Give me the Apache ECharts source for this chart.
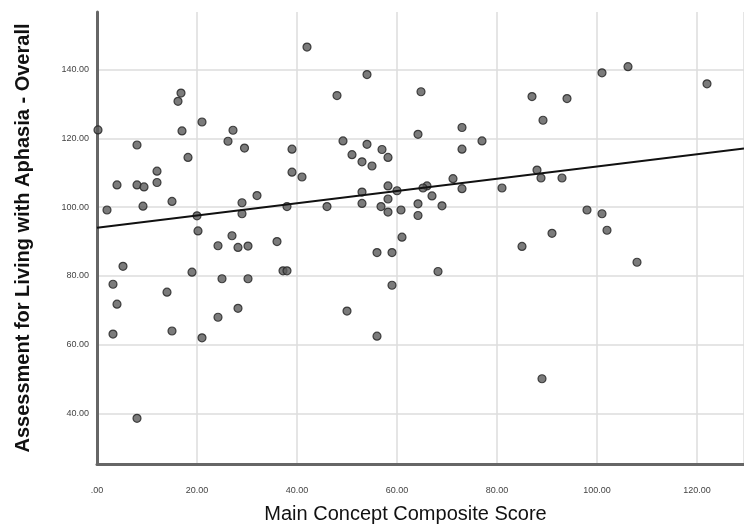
<!DOCTYPE html>
<html>
<head>
<meta charset="utf-8">
<script src="https://cdn.jsdelivr.net/npm/echarts@6/dist/echarts.min.js"></script>
<style>
  html, body { margin: 0; padding: 0; background: #fff; }
  #chart { width: 744px; height: 529px; }
</style>
</head>
<body>
<div id="chart"></div>
<script>
// Main Concept Composite Score (x) vs ALA Overall (y)
const mcScore = [
  0.2, 16.8, 16.2, 17, 21, 27.2, 26.2, 29.5, 8, 18.2,
  12, 12, 4, 8, 9.4, 15, 2, 9.2, 20, 29,
  29, 32, 38, 20.2, 27, 24.2, 28.2, 30.2, 36, 5.2,
  19, 25, 30.2, 37.2, 38, 3.2, 14, 4, 28.2, 24.2,
  15, 3.2, 21, 8,
  42, 54, 48, 64.8, 73, 64.2, 77, 49.2, 54, 73,
  39, 57, 58.2, 51, 53, 55, 39, 41, 71.2, 73,
  66, 67, 65.2, 60, 58.2, 58.2, 53, 53, 46, 56.8,
  58.2, 60.8, 64.2, 64.2, 69, 61, 56, 59, 68.2, 59,
  50, 56,
  101, 106.2, 122, 87, 94, 89.2, 88, 88.8, 93, 81,
  98, 101, 102, 91, 85, 108, 89
]
const alaScore = [
  122.5, 133.2, 130.8, 122.2, 124.8, 122.4, 119.2, 117.2, 118.1, 114.5,
  110.5, 107.2, 106.5, 106.5, 105.9, 101.7, 99.2, 100.3, 97.5, 101.3,
  98.1, 103.4, 100.2, 93.1, 91.7, 88.8, 88.3, 88.7, 90, 82.8,
  81.1, 79.2, 79.2, 81.5, 81.5, 77.6, 75.3, 71.8, 70.6, 68,
  64, 63.1, 62, 38.6,
  146.6, 138.6, 132.5, 133.6, 123.2, 121.2, 119.3, 119.3, 118.3, 116.9,
  116.9, 116.8, 114.5, 115.3, 113.2, 112, 110.2, 108.8, 108.3, 105.4,
  106.2, 103.3, 105.6, 104.8, 106.2, 102.4, 104.4, 101.1, 100.2, 100.2,
  98.6, 99.2, 101, 97.6, 100.4, 91.3, 86.8, 86.8, 81.3, 77.3,
  69.8, 62.5,
  139.1, 140.9, 135.9, 132.2, 131.6, 125.3, 110.8, 108.5, 108.5, 105.6,
  99.2, 98.1, 93.3, 92.4, 88.6, 84, 50.1
]
// fit line end points
const fitX = [0, 129.4]
const fitY = [94, 117.1]
const yTicks = [40, 60, 80, 100, 120, 140]

const chart = echarts.init(document.getElementById('chart'))

chart.setOption({
  animation: false,
  backgroundColor: '#fff',
  grid: {
    left: 97,
    right: 0,
    top: 12,
    bottom: 62
  },
  xAxis: {
    type: 'value',
    min: 0,
    max: 129.4,
    interval: 20,
    name: 'Main Concept Composite Score',
    nameLocation: 'middle',
    nameGap: 40,
    nameTextStyle: {
      fontFamily: 'Liberation Sans',
      fontSize: 20,
      color: '#111',
      padding: [0, 30, 0, 0]
    },
    axisLine: { lineStyle: { color: '#666', width: 3 } },
    axisTick: { show: false },
    axisLabel: {
      color: '#444',
      fontSize: 9,
      margin: 22,
      showMaxLabel: false,
      formatter: v => (v === 0 ? '.00' : v.toFixed(2))
    },
    splitLine: { show: true, lineStyle: { color: '#ddd', width: 1.5 } }
  },
  yAxis: {
    type: 'value',
    min: 25.3,
    max: 156.8,
    name: 'Assessment for Living with Aphasia - Overall',
    nameLocation: 'middle',
    nameGap: 64,
    nameTextStyle: {
      fontFamily: 'Liberation Sans',
      fontSize: 20,
      fontWeight: 'bold',
      color: '#111'
    },
    axisLine: { show: true, lineStyle: { color: '#666', width: 3 } },
    axisTick: { show: false, customValues: yTicks },
    axisLabel: {
      color: '#444',
      fontSize: 9,
      margin: 8,
      customValues: yTicks,
      formatter: v => v.toFixed(2)
    },
    splitLine: { show: true, lineStyle: { color: '#ddd', width: 1.5 } }
  },
  series: [
    {
      type: 'scatter',
      symbolSize: 8,
      itemStyle: { color: '#5a5a5a', borderColor: '#222', borderWidth: 1.2 },
      data: mcScore.map((x, i) => [x, alaScore[i]]),
      z: 3
    },
    {
      type: 'line',
      symbol: 'none',
      lineStyle: { color: '#111', width: 2 },
      data: fitX.map((x, i) => [x, fitY[i]]),
      z: 4
    }
  ]
})
</script>
</body>
</html>
